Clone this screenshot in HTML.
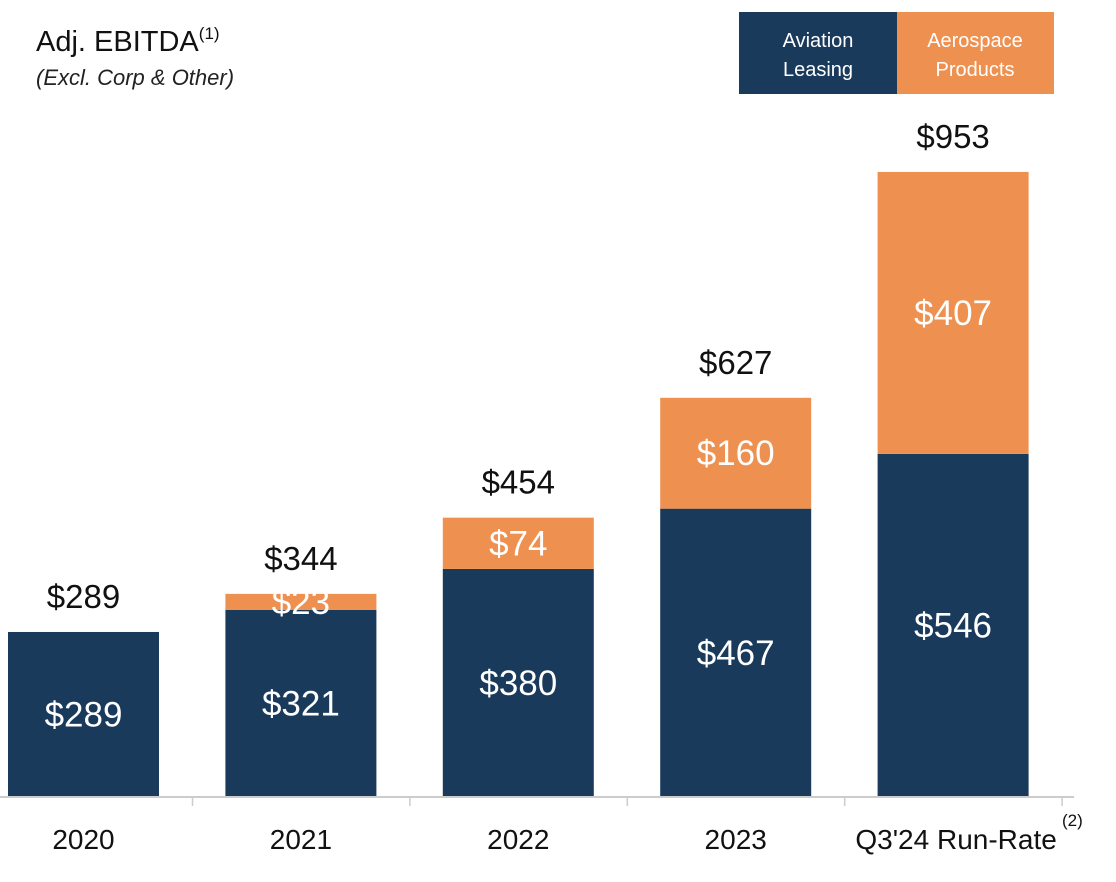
<!DOCTYPE html>
<html><head><meta charset="utf-8"><style>
body{margin:0;background:#fff;font-family:"Liberation Sans",sans-serif;}
svg{display:block}
</style></head><body>
<svg id="chart" width="1116" height="882">
<text x="36" y="51" font-size="29" fill="#111">Adj. EBITDA<tspan font-size="17" dy="-12">(1)</tspan></text>
<text x="36" y="85" font-size="22" font-style="italic" fill="#222">(Excl. Corp &amp; Other)</text>
<g>
<rect x="739" y="12" width="158" height="82" fill="#1a3a5c"/>
<text x="818" y="47" font-size="20" fill="#fff" text-anchor="middle">Aviation</text>
<text x="818" y="76" font-size="20" fill="#fff" text-anchor="middle">Leasing</text>
<rect x="897" y="12" width="157" height="82" fill="#ee9150"/>
<text x="975" y="47" font-size="20" fill="#fff" text-anchor="middle">Aerospace</text>
<text x="975" y="76" font-size="20" fill="#fff" text-anchor="middle">Products</text>
</g>
<g id="bars"></g>
<line x1="0" y1="797" x2="1074" y2="797" stroke="#ccc" stroke-width="2"/>
<g id="axis"></g>
</svg>
<script>
const categories=["2020","2021","2022","2023","Q3'24 Run-Rate"];
const aviation=[289,321,380,467,546];
const aerospace=[0,23,74,160,407];
const totals=[289,344,454,627,953];
const svg=document.getElementById('chart');
const gb=document.getElementById('bars'),ga=document.getElementById('axis');
const NS='http://www.w3.org/2000/svg';
const base=797,vmin=50.8,k=0.6928;
const y=v=>base-(v-vmin)*k;
const xc=i=>83.5+i*217.4;
const bw=151;
function mk(t,a,p){const e=document.createElementNS(NS,t);for(const q in a)e.setAttribute(q,a[q]);p.appendChild(e);return e;}
categories.forEach((c,i)=>{
  const yA=y(aviation[i]);
  const r=mk('rect',{x:xc(i)-bw/2,y:yA,width:bw,height:base-yA,fill:'#1a3a5c'},gb);
  
  
  const t=mk('text',{x:xc(i),y:(yA+base)/2+12,'font-size':35,fill:'#fff','text-anchor':'middle'},gb);
  t.textContent='$'+aviation[i];
  
  
  let top=yA;
  if(aerospace[i]>0){
    const yT=y(aviation[i]+aerospace[i]);
    const r2=mk('rect',{x:xc(i)-bw/2,y:yT,width:bw,height:yA-yT,fill:'#ee9150'},gb);
    
    
    const t2=mk('text',{x:xc(i),y:(yT+yA)/2+12,'font-size':35,fill:'#fff','text-anchor':'middle'},gb);
    t2.textContent='$'+aerospace[i];
    
    
    top=yT;
  }
  const tt=mk('text',{x:xc(i),y:top-24,'font-size':33,fill:'#111','text-anchor':'middle'},gb);
  tt.textContent='$'+totals[i];
  
  
  const cl=mk('text',{x:xc(i)+(i==4?3:0),y:849,'font-size':28,fill:'#111','text-anchor':'middle'},ga);
  cl.textContent=c;
  
  
  const tk=mk('line',{x1:xc(i)+109,y1:797,x2:xc(i)+109,y2:806,stroke:'#ccc','stroke-width':1.5},ga);
  
  
});
const sup=mk('text',{x:1062,y:826,'font-size':17,fill:'#111'},ga);
sup.textContent='(2)';


</script>
</body></html>
